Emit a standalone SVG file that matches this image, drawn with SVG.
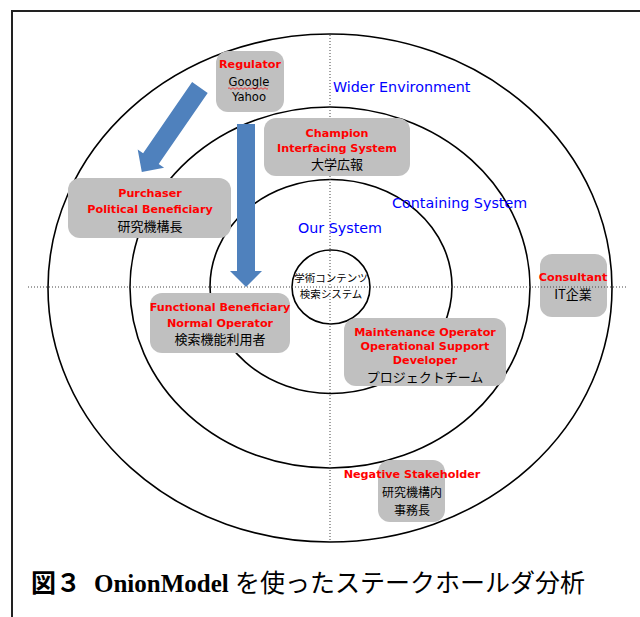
<svg xmlns="http://www.w3.org/2000/svg" width="640" height="617" viewBox="0 0 640 617">
<style>
.ring{fill:none;stroke:#000;stroke-width:1.6}
.dot{stroke:#444;stroke-width:1;stroke-dasharray:1 2;fill:none}
.box{fill:#c0c0c0}
.r{font-family:"DejaVu Sans",sans-serif;font-weight:bold;font-size:11.2px;fill:#ff0000;text-anchor:middle}
.k{font-family:"DejaVu Sans",sans-serif;font-size:11.6px;fill:#000;text-anchor:middle}
.j{font-family:"Noto Sans CJK JP",sans-serif;font-size:13px;fill:#000;text-anchor:middle}
.bl{font-family:"DejaVu Sans",sans-serif;font-size:14.3px;fill:#0000ff}
.arrow{fill:#4f81bd}
</style>
<rect x="0" y="0" width="640" height="617" fill="#fff"/>
<rect x="12" y="11" width="640" height="620" fill="none" stroke="#222" stroke-width="2"/>
<g id="rings">
<ellipse class="ring" cx="330" cy="288" rx="282" ry="254"/>
<ellipse class="ring" cx="330" cy="287.5" rx="200" ry="180.5"/>
<ellipse class="ring" cx="331" cy="286.5" rx="121" ry="107"/>
<ellipse class="ring" cx="331" cy="287" rx="39" ry="37"/>
</g>
<line class="dot" x1="330" y1="35" x2="330" y2="545"/>
<g id="labels">
<text class="bl" x="333" y="92">Wider Environment</text>
<text class="bl" x="392" y="208">Containing System</text>
<text class="bl" x="298" y="233">Our System</text>
</g>
<g id="core">
<text class="j" style="font-size:10.5px" x="331" y="282">学術コンテンツ</text>
<text class="j" style="font-size:10.5px" x="331" y="297.5">検索システム</text>
</g>
<g id="regulator">
<rect class="box" x="216" y="51" width="68" height="61" rx="12"/>
<text class="r" x="250" y="68">Regulator</text>
<text class="k" x="249" y="85.5">Google</text>
<path d="M228 88.5 q1 -1.6 2 0 t2 0 t2 0 t2 0 t2 0 t2 0 t2 0 t2 0 t2 0 t2 0 t2 0 t2 0 t2 0 t2 0 t2 0 t2 0 t2 0 t2 0 t2 0 t2 0" fill="none" stroke="#ff0000" stroke-width="0.7"/>
<text class="k" x="249" y="101">Yahoo</text>
</g>
<g id="champion">
<rect class="box" x="264" y="118" width="146" height="58" rx="12"/>
<text class="r" x="337" y="137">Champion</text>
<text class="r" x="337" y="151.5">Interfacing System</text>
<text class="j" x="337" y="168.5">大学広報</text>
</g>
<g id="purchaser">
<rect class="box" x="68" y="178" width="163" height="60" rx="12"/>
<text class="r" x="150" y="197">Purchaser</text>
<text class="r" x="150" y="213">Political Beneficiary</text>
<text class="j" x="150" y="230.5">研究機構長</text>
</g>
<g id="functional">
<rect class="box" x="150" y="293" width="140" height="60" rx="12"/>
<text class="r" x="220" y="311">Functional Beneficiary</text>
<text class="r" x="220" y="327">Normal Operator</text>
<text class="j" x="220" y="344">検索機能利用者</text>
</g>
<g id="maintenance">
<rect class="box" x="344" y="318" width="162" height="68" rx="12"/>
<text class="r" x="425" y="335.5">Maintenance Operator</text>
<text class="r" x="425" y="349.5">Operational Support</text>
<text class="r" x="425" y="363.5">Developer</text>
<text class="j" x="425" y="381.5">プロジェクトチーム</text>
</g>
<g id="consultant">
<rect class="box" x="540" y="254" width="67" height="63" rx="12"/>
<text class="r" x="573" y="281">Consultant</text>
<text class="j" x="573" y="299">IT企業</text>
</g>
<g id="negative">
<rect class="box" x="378" y="460" width="67" height="62" rx="12"/>
<text class="r" x="412" y="478">Negative Stakeholder</text>
<text class="j" style="font-size:12px" x="412" y="497">研究機構内</text>
<text class="j" style="font-size:12px" x="412" y="514.5">事務長</text>
</g>
<line class="dot" x1="28" y1="287" x2="627" y2="287"/>
<g id="connectors">
<polygon class="arrow" points="192.1,82.1 207.7,92.9 158.7,164.1 164.1,167.8 141.8,171.9 137.7,149.6 143.1,153.3"/>
<polygon class="arrow" points="237,124 255,124 255,271 262,271 246,287 230,271 237,271"/>
</g>
<text id="caption" y="591.5" style="font-size:25px;fill:#000"><tspan x="31" style="font-family:'Noto Sans CJK JP',sans-serif;font-weight:bold">図３</tspan><tspan x="94" style="font-family:'Liberation Serif',serif;font-weight:bold">OnionModel</tspan><tspan x="235" style="font-family:'Noto Sans CJK JP',sans-serif">を使ったステークホールダ分析</tspan></text>
</svg>
